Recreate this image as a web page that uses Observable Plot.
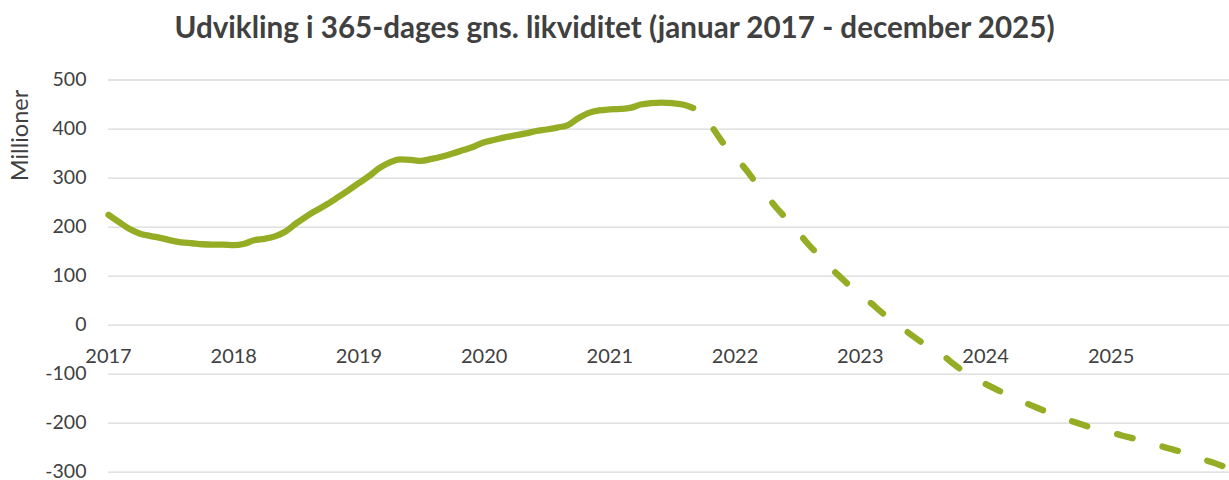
<!DOCTYPE html>
<html><head><meta charset="utf-8">
<script src="https://cdn.jsdelivr.net/npm/d3@7"></script>
<script src="https://cdn.jsdelivr.net/npm/@observablehq/plot@0.6"></script>
<style>
body{margin:0;background:#fff;width:1229px;height:480px;overflow:hidden;font-family:Lato,sans-serif;}
#title{height:60px;line-height:54px;text-align:center;font-weight:700;font-size:29.6px;color:#404040;white-space:nowrap;}
#chart svg{display:block;}
</style></head><body>
<div id="title">Udvikling i 365-dages gns. likviditet (januar 2017 - december 2025)</div>
<div id="chart"></div>
<script>
const actualMonths = ["2017-01","2017-02","2017-03","2017-04","2017-05","2017-06","2017-07","2017-08","2017-09","2017-10","2017-11","2017-12",
"2018-01","2018-02","2018-03","2018-04","2018-05","2018-06","2018-07","2018-08","2018-09","2018-10","2018-11","2018-12",
"2019-01","2019-02","2019-03","2019-04","2019-05","2019-06","2019-07","2019-08","2019-09","2019-10","2019-11","2019-12",
"2020-01","2020-02","2020-03","2020-04","2020-05","2020-06","2020-07","2020-08","2020-09","2020-10","2020-11","2020-12",
"2021-01","2021-02","2021-03","2021-04","2021-05","2021-06","2021-07","2021-08","2021-09"];
const actualValues = [225,210,197,187,182,178,173,169,167,165,164,164,
163,166,173,176,181,191,207,222,235,247,261,275,
290,305,320,332,338,337,335,339,344,350,357,364,
373,378,383,387,391,396,399,403,408,422,433,438,
440,441,443,450,453,454,453,450,443];
const forecastMonths = ["2021-09","2021-10","2021-11","2021-12",
"2022-01","2022-02","2022-03","2022-04","2022-05","2022-06","2022-07","2022-08","2022-09","2022-10","2022-11","2022-12",
"2023-01","2023-02","2023-03","2023-04","2023-05","2023-06","2023-07","2023-08","2023-09","2023-10","2023-11","2023-12",
"2024-01","2024-02","2024-03","2024-04","2024-05","2024-06","2024-07","2024-08","2024-09","2024-10","2024-11","2024-12",
"2025-01","2025-02","2025-03","2025-04","2025-05","2025-06","2025-07","2025-08","2025-09","2025-10","2025-11","2025-12"];
const forecastValues = [443,428,398,368,
343,318,292,266,240,216,192,166,143,120,100,80,
61,45,28,11,-5,-21,-36,-50,-63,-80,-96,-110,
-120,-131,-141,-151,-160,-169,-178,-187,-194,-201,-208,-214,
-219,-225,-230,-235,-241,-248,-254,-260,-268,-275,-282,-290];
const yTicks = [500,400,300,200,100,0,-100,-200,-300];
const xTickYears = [2017,2018,2019,2020,2021,2022,2023,2024,2025];
const yLabel = "Millioner";

const parse = d3.utcParse("%Y-%m");
const actual = actualMonths.map((m,i)=>({date:parse(m), value:actualValues[i]}));
const forecast = forecastMonths.map((m,i)=>({date:parse(m), value:forecastValues[i]}));
const yearDates = xTickYears.map(y=>({date:new Date(Date.UTC(y,0,1)), label:String(y)}));
const baseline = 0;
const green = "#94AD25";
const ink = "#404040";

const chart = Plot.plot({
  width:1229, height:420,
  marginTop:19.5, marginBottom:8.3, marginLeft:108, marginRight:0,
  style:{fontFamily:"Lato, sans-serif", fontSize:"20px", color:ink, background:"#fff", overflow:"visible"},
  x:{type:"utc", domain:[new Date(Date.UTC(2017,0,1)), new Date(Date.UTC(2025,11,12))], axis:null},
  y:{domain:[-300,500]},
  marks:[
    Plot.ruleY(yTicks, {stroke:"#d9d9d9", strokeWidth:1.3}),
    Plot.axisY(yTicks, {tickSize:0, tickPadding:22, fontSize:19.5, fill:ink, label:null, tickFormat:d=>String(d)}),
    Plot.text(yearDates, {x:"date", y:()=>baseline, text:"label", dy:31, fontSize:20, fill:ink}),
    Plot.text([yLabel], {text:d=>d, frameAnchor:"top-left", dx:-88, dy:55.5, rotate:-90, textAnchor:"middle", lineAnchor:"middle", fontSize:23.5, fill:ink}),
    Plot.line(actual, {x:"date", y:"value", stroke:green, strokeWidth:6.3, strokeLinecap:"round", strokeLinejoin:"round", curve:"monotone-x"}),
    Plot.line(forecast, {x:"date", y:"value", stroke:green, strokeWidth:6.3, strokeLinecap:"round", strokeLinejoin:"round", curve:"monotone-x", strokeDasharray:"16,31", strokeDashoffset:17})
  ]
});
document.getElementById("chart").appendChild(chart);
</script>
</body></html>
